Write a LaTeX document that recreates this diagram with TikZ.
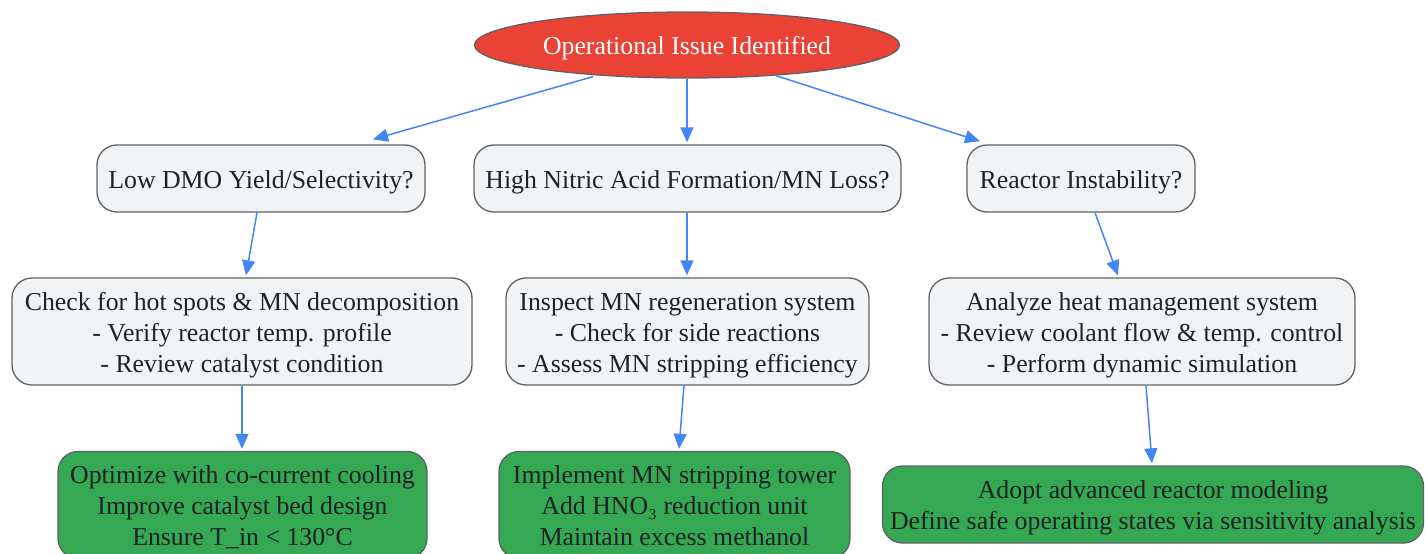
\documentclass[tikz,border=0pt]{standalone}
\usepackage{fontspec}
\setmainfont{Liberation Serif}
\usetikzlibrary{arrows.meta,calc,shapes.geometric}
\definecolor{redfill}{HTML}{EA4335}
\definecolor{greenfill}{HTML}{34A853}
\definecolor{grayfill}{HTML}{F1F3F4}
\definecolor{bordergray}{HTML}{5F6368}
\definecolor{arrowblue}{HTML}{4285F4}
\definecolor{txt}{HTML}{202124}
\newcommand{\lowtext}[1]{\raisebox{-3.5pt}[\height][\depth]{\begin{tabular}{@{}c@{}}#1\end{tabular}}}
\tikzset{
  base/.style={draw=bordergray, line width=1.3pt, align=center, inner sep=0pt,
    font=\fontsize{25.8}{31}\selectfont, text=txt},
  issue/.style={base, ellipse, fill=redfill, text=white},
  qbox/.style={base, rounded corners=20pt, fill=grayfill},
  gbox/.style={base, rounded corners=20pt, fill=greenfill},
  arr/.style={draw=arrowblue, line width=1.5pt, -{Triangle[length=15pt,width=13pt]}}
}
\begin{document}
\begin{tikzpicture}[x=1pt,y=-1pt]
\useasboundingbox (0,0) rectangle (1425,554);
\node[issue, minimum width=425pt, minimum height=66pt] (e) at (687,45) {\lowtext{Operational Issue Identified}};
\node[qbox, minimum width=328pt, minimum height=67pt] (b1) at (261,178.5) {\lowtext{Low DMO Yield/Selectivity?}};
\node[qbox, minimum width=427pt, minimum height=67pt] (b2) at (687.5,178.5) {\lowtext{High Nitric Acid Formation/MN Loss?}};
\node[qbox, minimum width=228pt, minimum height=67pt] (b3) at (1081,178.5) {\lowtext{Reactor Instability?}};
\node[qbox, minimum width=460pt, minimum height=107pt] (c1) at (242,331.5) {\lowtext{Check for hot spots \& MN decomposition\\- Verify reactor temp. profile\\- Review catalyst condition}};
\node[qbox, minimum width=363pt, minimum height=107pt] (c2) at (687.5,331.5) {\lowtext{Inspect MN regeneration system\\- Check for side reactions\\- Assess MN stripping efficiency}};
\node[qbox, minimum width=426pt, minimum height=107pt] (c3) at (1142,331.5) {\lowtext{Analyze heat management system\\- Review coolant flow \& temp. control\\- Perform dynamic simulation}};
\node[gbox, minimum width=369pt, minimum height=107pt] (g1) at (242.5,505) {\lowtext{Optimize with co-current cooling\\Improve catalyst bed design\\Ensure T\_in < 130°C}};
\node[gbox, minimum width=351pt, minimum height=107pt] (g2) at (674.5,505) {\lowtext{Implement MN stripping tower\\Add HNO₃ reduction unit\\Maintain excess methanol}};
\node[gbox, minimum width=541pt, minimum height=77pt] (g3) at (1153,504.5) {\lowtext{Adopt advanced reactor modeling\\Define safe operating states via sensitivity analysis}};
\draw[arr] ($(e.south)+(-94,-2)$) -- ($(b1.north)+(112,-5)$);
\draw[arr] (e.south) -- ($(b2.north)+(-0.5,-2)$);
\draw[arr] ($(e.south)+(89,-3)$) -- ($(b3.north)+(-101,-3)$);
\draw[arr] ($(b1.south)+(-4,0)$) -- ($(c1.north)+(4,-2)$);
\draw[arr] ($(b2.south)+(-0.5,0)$) -- ($(c2.north)+(-0.5,-2)$);
\draw[arr] ($(b3.south)+(14,0)$) -- ($(c3.north)+(-24,-2)$);
\draw[arr] (c1.south) -- ($(g1.north)+(-0.5,-2)$);
\draw[arr] ($(c2.south)+(-3.5,0)$) -- ($(g2.north)+(4.5,-2)$);
\draw[arr] ($(c3.south)+(4,0)$) -- ($(g3.north)+(-1,-2)$);
\end{tikzpicture}
\end{document}
